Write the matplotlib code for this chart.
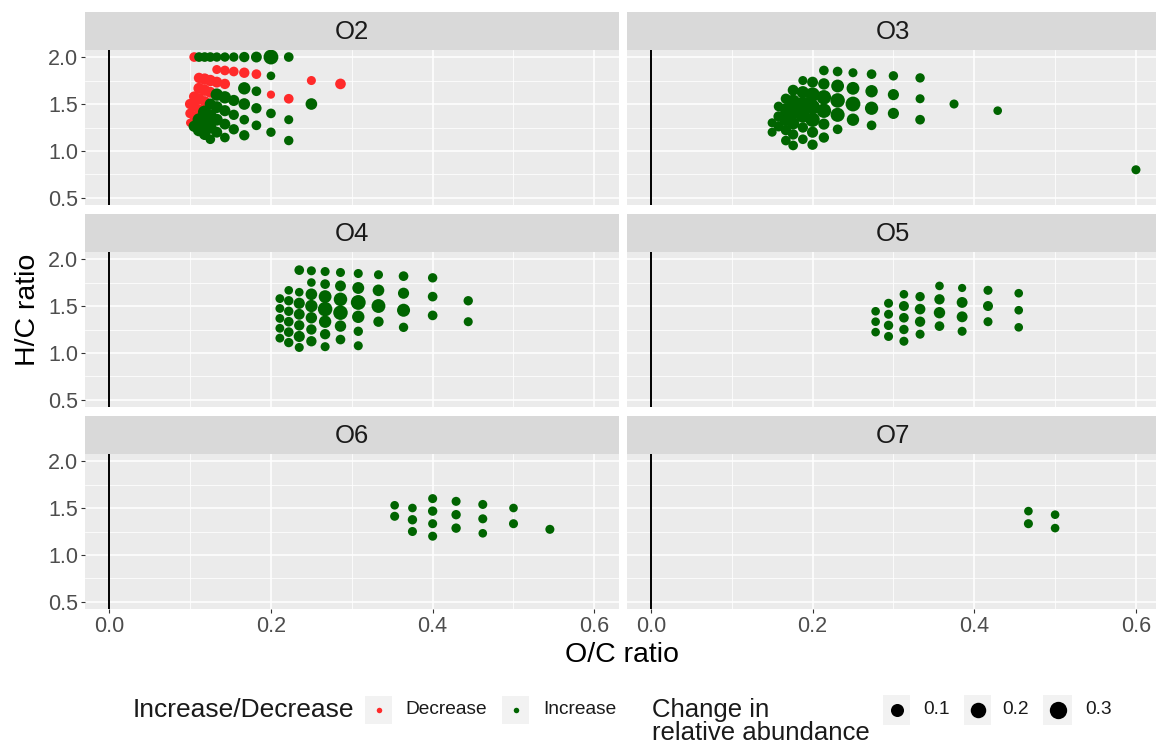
import matplotlib
matplotlib.use("Agg")
import matplotlib.pyplot as plt
from matplotlib.patches import Rectangle
from matplotlib.ticker import FormatStrFormatter
import numpy as np

plt.rcParams['font.family'] = ['Liberation Sans', 'DejaVu Sans']

# ---------------- data ----------------
facet_labels = ["O2", "O3", "O4", "O5", "O6", "O7"]
direction_labels = ["Decrease", "Increase"]
direction_colors = ["#FF2A2A", "#006400"]
size_breaks = [0.1, 0.2, 0.3]
x_ticks = [0.0, 0.2, 0.4, 0.6]
y_ticks = [0.5, 1.0, 1.5, 2.0]

# O2 - decrease
o2_dec_oc = [0.105, 0.133, 0.143, 0.154, 0.167, 0.182, 0.250, 0.286, 0.111, 0.118,
             0.125, 0.133, 0.143, 0.200, 0.222, 0.111, 0.118, 0.125, 0.105, 0.111,
             0.118, 0.100, 0.105, 0.100, 0.105, 0.100, 0.111]
o2_dec_hc = [2.000, 1.867, 1.857, 1.846, 1.833, 1.818, 1.750, 1.714, 1.778, 1.765,
             1.750, 1.733, 1.714, 1.600, 1.556, 1.667, 1.647, 1.625, 1.579, 1.556,
             1.529, 1.500, 1.474, 1.400, 1.368, 1.300, 1.444]
o2_dec_val = [0.018, 0.010, 0.018, 0.018, 0.030, 0.018, 0.010, 0.035, 0.029, 0.052,
              0.052, 0.040, 0.029, 0.003, 0.018, 0.046, 0.052, 0.040, 0.029, 0.040,
              0.029, 0.029, 0.029, 0.018, 0.018, 0.003, 0.029]
# O2 - increase
o2_inc_oc = [0.111, 0.118, 0.125, 0.133, 0.143, 0.154, 0.167, 0.182, 0.200, 0.222,
             0.200, 0.167, 0.182, 0.250, 0.133, 0.143, 0.154, 0.167, 0.182, 0.200,
             0.222, 0.125, 0.133, 0.143, 0.154, 0.167, 0.182, 0.200, 0.222,
             0.118, 0.125, 0.133, 0.143, 0.154, 0.167, 0.111, 0.118, 0.125, 0.133,
             0.143, 0.105, 0.111, 0.118, 0.125]
o2_inc_hc = [2.000, 2.000, 2.000, 2.000, 2.000, 2.000, 2.000, 2.000, 2.000, 2.000,
             1.800, 1.667, 1.636, 1.500, 1.600, 1.571, 1.538, 1.500, 1.455, 1.400,
             1.333, 1.500, 1.467, 1.429, 1.385, 1.333, 1.273, 1.200, 1.111,
             1.412, 1.375, 1.333, 1.286, 1.231, 1.167, 1.333, 1.294, 1.250, 1.200,
             1.143, 1.263, 1.222, 1.176, 1.125]
o2_inc_val = [0.018, 0.018, 0.018, 0.014, 0.014, 0.014, 0.029, 0.040, 0.171, 0.018,
              0.006, 0.079, 0.018, 0.058, 0.079, 0.079, 0.046, 0.058, 0.029, 0.018,
              0.010, 0.046, 0.065, 0.046, 0.029, 0.018, 0.018, 0.014, 0.014,
              0.116, 0.093, 0.065, 0.040, 0.029, 0.029, 0.093, 0.093, 0.079, 0.040,
              0.018, 0.046, 0.079, 0.046, 0.018]

# O3 - increase
o3_oc = [0.600, 0.429, 0.375, 0.333, 0.333, 0.333, 0.300, 0.300, 0.300,
         0.273, 0.273, 0.273, 0.273, 0.250, 0.250, 0.250, 0.250,
         0.231, 0.231, 0.231, 0.231, 0.231,
         0.214, 0.214, 0.214, 0.214, 0.214, 0.214,
         0.200, 0.200, 0.200, 0.200, 0.200, 0.200,
         0.188, 0.188, 0.188, 0.188, 0.188, 0.188,
         0.176, 0.176, 0.176, 0.176, 0.176, 0.176,
         0.167, 0.167, 0.167, 0.167, 0.167,
         0.158, 0.158, 0.158, 0.150, 0.150]
o3_hc = [0.800, 1.429, 1.500, 1.778, 1.556, 1.333, 1.800, 1.600, 1.400,
         1.818, 1.636, 1.455, 1.273, 1.833, 1.667, 1.500, 1.333,
         1.846, 1.692, 1.538, 1.385, 1.231,
         1.857, 1.714, 1.571, 1.429, 1.286, 1.143,
         1.733, 1.600, 1.467, 1.333, 1.200, 1.067,
         1.750, 1.625, 1.500, 1.375, 1.250, 1.125,
         1.647, 1.529, 1.412, 1.294, 1.176, 1.059,
         1.556, 1.444, 1.333, 1.222, 1.111,
         1.474, 1.368, 1.263, 1.300, 1.200]
o3_val = [0.010, 0.006, 0.010, 0.014, 0.010, 0.018, 0.014, 0.046, 0.046,
          0.018, 0.079, 0.109, 0.018, 0.010, 0.093, 0.171, 0.079,
          0.018, 0.093, 0.156, 0.139, 0.018,
          0.018, 0.052, 0.156, 0.156, 0.046, 0.029,
          0.040, 0.156, 0.171, 0.156, 0.046, 0.029,
          0.010, 0.079, 0.156, 0.139, 0.029, 0.018,
          0.040, 0.116, 0.156, 0.079, 0.029, 0.018,
          0.029, 0.079, 0.093, 0.029, 0.018,
          0.018, 0.029, 0.029, 0.010, 0.010]

# O4 - increase
o4_oc = [0.211, 0.211, 0.211, 0.211, 0.211,
         0.222, 0.222, 0.222, 0.222, 0.222, 0.222,
         0.235, 0.235, 0.235, 0.235, 0.235, 0.235, 0.235,
         0.250, 0.250, 0.250, 0.250, 0.250, 0.250, 0.250,
         0.267, 0.267, 0.267, 0.267, 0.267, 0.267, 0.267,
         0.286, 0.286, 0.286, 0.286, 0.286, 0.286,
         0.308, 0.308, 0.308, 0.308, 0.308, 0.308,
         0.333, 0.333, 0.333, 0.333,
         0.364, 0.364, 0.364, 0.364,
         0.400, 0.400, 0.400, 0.444, 0.444]
o4_hc = [1.579, 1.474, 1.368, 1.263, 1.158,
         1.667, 1.556, 1.444, 1.333, 1.222, 1.111,
         1.882, 1.647, 1.529, 1.412, 1.294, 1.176, 1.059,
         1.875, 1.750, 1.625, 1.500, 1.375, 1.250, 1.125,
         1.867, 1.733, 1.600, 1.467, 1.333, 1.200, 1.067,
         1.857, 1.714, 1.571, 1.429, 1.286, 1.143,
         1.846, 1.692, 1.538, 1.385, 1.231, 1.077,
         1.833, 1.667, 1.500, 1.333,
         1.818, 1.636, 1.455, 1.273,
         1.800, 1.600, 1.400, 1.556, 1.333]
o4_val = [0.008, 0.008, 0.008, 0.008, 0.008,
          0.006, 0.014, 0.014, 0.018, 0.018, 0.014,
          0.018, 0.006, 0.046, 0.040, 0.029, 0.046, 0.010,
          0.010, 0.006, 0.058, 0.079, 0.052, 0.029, 0.029,
          0.010, 0.018, 0.093, 0.156, 0.079, 0.029, 0.010,
          0.010, 0.040, 0.116, 0.156, 0.052, 0.018,
          0.010, 0.065, 0.171, 0.079, 0.014, 0.010,
          0.010, 0.058, 0.130, 0.029,
          0.018, 0.046, 0.100, 0.014,
          0.014, 0.018, 0.018, 0.014, 0.010]

# O5 - increase
o5_oc = [0.278, 0.278, 0.278,
         0.294, 0.294, 0.294, 0.294,
         0.313, 0.313, 0.313, 0.313, 0.313,
         0.333, 0.333, 0.333, 0.333,
         0.357, 0.357, 0.357, 0.357,
         0.385, 0.385, 0.385, 0.385,
         0.417, 0.417, 0.417,
         0.455, 0.455, 0.455]
o5_hc = [1.444, 1.333, 1.222,
         1.529, 1.412, 1.294, 1.176,
         1.625, 1.500, 1.375, 1.250, 1.125,
         1.600, 1.467, 1.333, 1.200,
         1.714, 1.571, 1.429, 1.286,
         1.692, 1.538, 1.385, 1.231,
         1.667, 1.500, 1.333,
         1.636, 1.455, 1.273]
o5_val = [0.006, 0.006, 0.006,
          0.010, 0.010, 0.014, 0.010,
          0.006, 0.023, 0.018, 0.014, 0.010,
          0.014, 0.035, 0.029, 0.010,
          0.006, 0.029, 0.052, 0.018,
          0.003, 0.040, 0.040, 0.010,
          0.010, 0.023, 0.010,
          0.006, 0.006, 0.006]

# O6 - increase
o6_oc = [0.353, 0.353, 0.375, 0.375, 0.375, 0.400, 0.400, 0.400, 0.400,
         0.429, 0.429, 0.429, 0.462, 0.462, 0.462, 0.500, 0.500, 0.545]
o6_hc = [1.529, 1.412, 1.500, 1.375, 1.250, 1.600, 1.467, 1.333, 1.200,
         1.571, 1.429, 1.286, 1.538, 1.385, 1.231, 1.500, 1.333, 1.273]
o6_val = [0.006, 0.010, 0.006, 0.014, 0.010, 0.010, 0.014, 0.010, 0.010,
          0.010, 0.014, 0.014, 0.010, 0.010, 0.006, 0.006, 0.010, 0.010]

# O7 - increase
o7_oc = [0.467, 0.467, 0.500, 0.500]
o7_hc = [1.467, 1.333, 1.429, 1.286]
o7_val = [0.006, 0.010, 0.006, 0.006]

facet_series = {
    "O2": [("Decrease", o2_dec_oc, o2_dec_hc, o2_dec_val),
           ("Increase", o2_inc_oc, o2_inc_hc, o2_inc_val)],
    "O3": [("Increase", o3_oc, o3_hc, o3_val)],
    "O4": [("Increase", o4_oc, o4_hc, o4_val)],
    "O5": [("Increase", o5_oc, o5_hc, o5_val)],
    "O6": [("Increase", o6_oc, o6_hc, o6_val)],
    "O7": [("Increase", o7_oc, o7_hc, o7_val)],
}
color_of = dict(zip(direction_labels, direction_colors))


def size_pt2(v):
    d_px = 7.2 + 18.5 * np.sqrt(np.asarray(v, dtype=float))
    return (d_px * 0.72) ** 2


# ---------------- layout ----------------
W, H = 1156, 747
fig = plt.figure(figsize=(W / 100, H / 100), dpi=100)
fig.patch.set_facecolor("white")


def rect(l, t, w, h):
    return [l / W, 1 - (t + h) / H, w / W, h / H]


col_left = [85, 626.6]
row_top = [50, 252, 454]
pw, ph, sh = 533.6, 155, 38

for i, lab in enumerate(facet_labels):
    r, c = divmod(i, 2)
    l, t = col_left[c], row_top[r]
    ax = fig.add_axes(rect(l, t, pw, ph))
    ax.set_facecolor("#EBEBEB")
    ax.set_xlim(-0.03, 0.63)
    ax.set_ylim(0.425, 2.075)
    ax.set_xticks(x_ticks)
    ax.set_xticks([0.1, 0.3, 0.5], minor=True)
    ax.set_yticks(y_ticks)
    ax.set_yticks([0.75, 1.25, 1.75], minor=True)
    ax.xaxis.set_major_formatter(FormatStrFormatter('%.1f'))
    ax.yaxis.set_major_formatter(FormatStrFormatter('%.1f'))
    ax.set_axisbelow(True)
    ax.grid(True, which='major', color='white', linewidth=1.1)
    ax.grid(True, which='minor', color='white', linewidth=0.55)
    for sp in ax.spines.values():
        sp.set_visible(False)
    ax.tick_params(which='minor', length=0)
    ax.tick_params(which='major', length=3, width=0.8, color='#333333',
                   labelsize=15.5, labelcolor='#4D4D4D', pad=2)
    if r != 2:
        ax.tick_params(axis='x', which='major', length=0, labelbottom=False)
    if c != 0:
        ax.tick_params(axis='y', which='major', length=0, labelleft=False)
    ax.axvline(0, color='black', linewidth=1.4, zorder=2)
    for direction, oc, hc, val in facet_series[lab]:
        ax.scatter(oc, hc, s=size_pt2(val), c=color_of[direction],
                   linewidths=0, zorder=3)
    # strip
    sax = fig.add_axes(rect(l, t - sh, pw, sh))
    sax.set_facecolor("#D9D9D9")
    sax.set_xticks([]); sax.set_yticks([])
    for sp in sax.spines.values():
        sp.set_visible(False)
    sax.text(0.5, 0.47, lab, transform=sax.transAxes, ha='center',
             va='center', fontsize=18.5, color='#1A1A1A')

# axis titles
fig.text(622 / W, 1 - 662 / H, "O/C ratio", ha='center', va='baseline',
         fontsize=20.5, color='black')
fig.text(28 / W, 1 - 310 / H, "H/C ratio", ha='center', va='center',
         rotation=90, fontsize=20.5, color='black')

# ---------------- legend ----------------
lax = fig.add_axes([0, 0, 1, 1], facecolor='none')
lax.set_xlim(0, W); lax.set_ylim(H, 0)
lax.axis('off')
ly = 710
lax.text(133, ly, "Increase/Decrease", ha='left', va='center', fontsize=19,
         color='#1A1A1A')
key_x = [365, 502]
lab_x = [405, 543]
for kx, tx, name in zip(key_x, lab_x, direction_labels):
    lax.add_patch(Rectangle((kx, ly - 14), 27, 28, facecolor='#F2F2F2',
                            edgecolor='none'))
    lax.scatter([kx + 13.5], [ly], s=(5.5 * 0.72) ** 2, c=color_of[name],
                linewidths=0)
    lax.text(tx, ly, name, ha='left', va='center', fontsize=13.8,
             color='#1A1A1A')

lax.text(652, 710, "Change in", ha='left', va='center', fontsize=18.5,
         color='#1A1A1A')
lax.text(652, 733, "relative abundance", ha='left', va='center', fontsize=18.5,
         color='#1A1A1A')
skey_x = [883, 964, 1043]
skey_w = [27, 27, 29]
slab_x = [923, 1002, 1085]
for kx, kw, tx, b in zip(skey_x, skey_w, slab_x, size_breaks):
    lax.add_patch(Rectangle((kx, ly - 15), kw, 30, facecolor='#F2F2F2',
                            edgecolor='none'))
    lax.scatter([kx + kw / 2], [ly], s=size_pt2(b), c='black', linewidths=0)
    lax.text(tx, ly, f"{b:.1f}", ha='left', va='center', fontsize=13.8,
             color='#1A1A1A')

fig.savefig("out.png", dpi=100)
